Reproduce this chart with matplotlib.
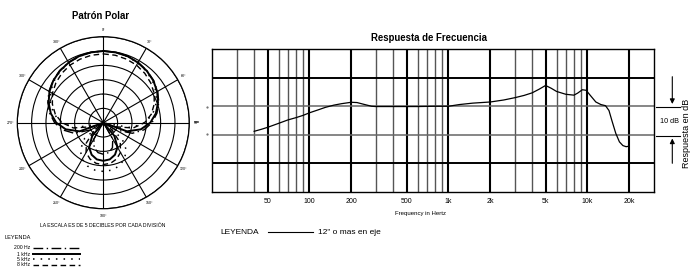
import numpy as np
import matplotlib
matplotlib.use("Agg")
import matplotlib.pyplot as plt
from matplotlib.ticker import NullLocator

plt.rcParams['font.family'] = ['Liberation Sans', 'DejaVu Sans']

# Frequency response (Hz, dB relative to 1 kHz)
freq_hz = [40, 45, 50, 60, 70, 80, 90, 100, 115, 130, 150, 170, 200, 220, 250,
           280, 300, 400, 600, 800, 1000, 1200, 1500, 2000, 2500, 3000, 3500,
           4000, 4500, 5000, 5500, 6000, 7000, 8000, 8500, 9200, 9800, 10500,
           11500, 12500, 13500, 14300, 15000, 16000, 17000, 18000, 19000, 20000]
resp_db = [-8.8, -8.1, -7.4, -6.0, -4.8, -4.0, -3.2, -2.3, -1.3, -0.4, 0.4, 0.9,
           1.4, 1.3, 0.6, 0.0, -0.1, -0.1, -0.1, 0.0, 0.0, 0.6, 1.1, 1.5, 2.2,
           3.0, 3.8, 4.7, 6.0, 7.3, 6.3, 5.2, 4.2, 3.9, 4.6, 5.8, 5.6, 3.8, 1.5,
           0.6, 0.2, -1.5, -5.0, -9.5, -12.5, -13.8, -14.2, -14.0]
tick_freqs = [50, 100, 200, 500, 1000, 2000, 5000, 10000, 20000]
tick_labels = ['50', '100', '200', '500', '1k', '2k', '5k', '10k', '20k']

# Polar pattern, radius in scale units (6 rings of 5 dB), angles 0..180 deg, mirrored
polar_deg = list(range(0, 190, 10))
polar_200 = [25, 24.9, 24.7, 24.3, 23.7, 22.9, 21.9, 20.6, 19.0, 17.0, 14.4, 10.8,
             5.0, 0, 0.6, 6.6, 9.3, 10.6, 11.0]
polar_1k = [25, 24.9, 24.7, 24.2, 23.6, 22.8, 21.7, 20.3, 18.6, 16.4, 13.3, 8.8,
            0, 0, 6.0, 9.9, 11.9, 13.0, 13.3]
polar_5k = [25, 24.9, 24.6, 24.1, 23.4, 22.5, 21.3, 19.6, 17.5, 14.5, 10.0, 0.7,
            0, 8.5, 12.5, 14.7, 16.1, 16.8, 17.0]
polar_8k = [24, 23.9, 23.6, 23.2, 22.5, 21.6, 20.5, 18.9, 17.0, 14.4, 10.6, 4.1,
            0, 4.0, 9.2, 12.0, 13.5, 14.4, 14.6]
polar_labels = ['200 Hz', '1 kHz', '5 kHz', '8 kHz']
angle_labels = list(range(0, 360, 30))

W, H = 691, 270
fig = plt.figure(figsize=(W / 100, H / 100), dpi=100)

# overlay in pixel coordinates for texts and decorations
ov = fig.add_axes([0, 0, 1, 1])
ov.set_xlim(0, W)
ov.set_ylim(H, 0)
ov.axis('off')

# ---------------- polar plot ----------------
cx, cy, R = 103.3, 122.7, 86
axp = fig.add_axes([(cx - R) / W, 1 - (cy + R) / H, 2 * R / W, 2 * R / H], projection='polar')
axp.set_theta_zero_location('N')
axp.set_theta_direction(-1)
axp.set_rlim(0, 30)
axp.set_rgrids([5, 10, 15, 20, 25, 30], labels=[])
axp.set_thetagrids(angle_labels, labels=[])
axp.grid(True, color='black', lw=0.8)
axp.spines['polar'].set_linewidth(0.9)
axp.tick_params(length=0)

deg = np.array(polar_deg + [360 - d for d in polar_deg[::-1]])
styles = [dict(ls=(0, (7, 2.5, 1, 2.5)), lw=1.0),
          dict(ls='-', lw=1.4),
          dict(ls=(0, (1, 4)), lw=1.1),
          dict(ls=(0, (4, 2.5)), lw=1.0)]
for vals, st in zip([polar_200, polar_1k, polar_5k, polar_8k], styles):
    r = np.array(vals + vals[::-1])
    axp.plot(np.deg2rad(deg), r, color='black', **st)

for a in angle_labels:
    axp.text(np.deg2rad(a), 32.4, f'{a}°', fontsize=2.6, ha='center', va='center')

ov.text(100.8, 16, 'Patrón Polar', fontsize=6.9, fontweight='bold', ha='center', va='center')
ov.text(103, 225.7, 'LA ESCALA ES DE 5 DECIBLES POR CADA DIVISIÓN', fontsize=3.7,
        ha='center', va='center')
ov.text(5, 237.3, 'LEYENDA', fontsize=4.1, ha='left', va='center')
for i, (lab, st) in enumerate(zip(polar_labels, styles)):
    y = [247.7, 254.3, 259.3, 265][i]
    ov.text(30, y, lab, fontsize=3.7, ha='right', va='center')
    ov.plot([33.3, 80], [y, y], color='black', **st)

# ---------------- frequency response ----------------
x0, x1, y0, y1 = 212.3, 653.7, 49.3, 191.7
ax = fig.add_axes([x0 / W, 1 - y1 / H, (x1 - x0) / W, (y1 - y0) / H])
ax.set_xscale('log')
ax.set_xlim(20, 30000)
ax.set_ylim(-30, 20)

for dec in [10, 100, 1000, 10000]:
    for m in range(1, 10):
        f = m * dec
        if 20 < f < 30000:
            if f in tick_freqs:
                ax.axvline(f, color='black', lw=1.5, zorder=1)
            else:
                ax.axvline(f, color='#555555', lw=1.0, zorder=1)
for yv, major in [(10, True), (0, False), (-10, False), (-20, True)]:
    ax.axhline(yv, color='black' if major else '#666666', lw=1.4 if major else 1.1, zorder=1)

ax.plot(freq_hz, resp_db, color='black', lw=0.9, zorder=3)

ax.xaxis.set_minor_locator(NullLocator())
ax.set_xticks(tick_freqs)
ax.set_xticklabels(tick_labels)
ax.set_yticks([])
ax.tick_params(axis='x', length=0, pad=4.5, labelsize=5)
for s in ax.spines.values():
    s.set_linewidth(1.0)

ov.text(429, 38, 'Respuesta de Frecuencia', fontsize=6.9, fontweight='bold',
        ha='center', va='center')
ov.text(421, 213, 'Frequency in Hertz', fontsize=4.3, ha='center', va='center')

# tiny marks left of the response chart
ov.plot([206.7, 206.7], [106.7, 134.3], 's', ms=0.6, color='#777777', lw=0)
ov.plot([195.5, 198], [122.3, 122.3], color='#555555', lw=1.2)

# 10 dB bracket
ov.plot([656, 680], [106.7, 106.7], color='black', lw=0.8)
ov.plot([656, 680], [135.7, 135.7], color='black', lw=0.8)
ov.annotate('', xy=(672.3, 104), xytext=(672.3, 76.7),
            arrowprops=dict(arrowstyle='-|>', color='black', lw=0.8, mutation_scale=7,
                            shrinkA=0, shrinkB=0))
ov.annotate('', xy=(672.3, 138.5), xytext=(672.3, 163.3),
            arrowprops=dict(arrowstyle='-|>', color='black', lw=0.8, mutation_scale=7,
                            shrinkA=0, shrinkB=0))
ov.text(669.5, 121.5, '10 dB', fontsize=5.2, ha='center', va='center')
ov.text(689, 133.5, 'Respuesta en dB', fontsize=6.5, rotation=90, rotation_mode='anchor',
        ha='center', va='baseline')

# legend under the response chart
ov.text(220, 232.3, 'LEYENDA', fontsize=6, ha='left', va='center')
ov.plot([268, 313], [232.3, 232.3], color='black', lw=0.8)
ov.text(318, 232.3, '12" o mas en eje', fontsize=6, ha='left', va='center')

fig.savefig('out.png', dpi=100)
